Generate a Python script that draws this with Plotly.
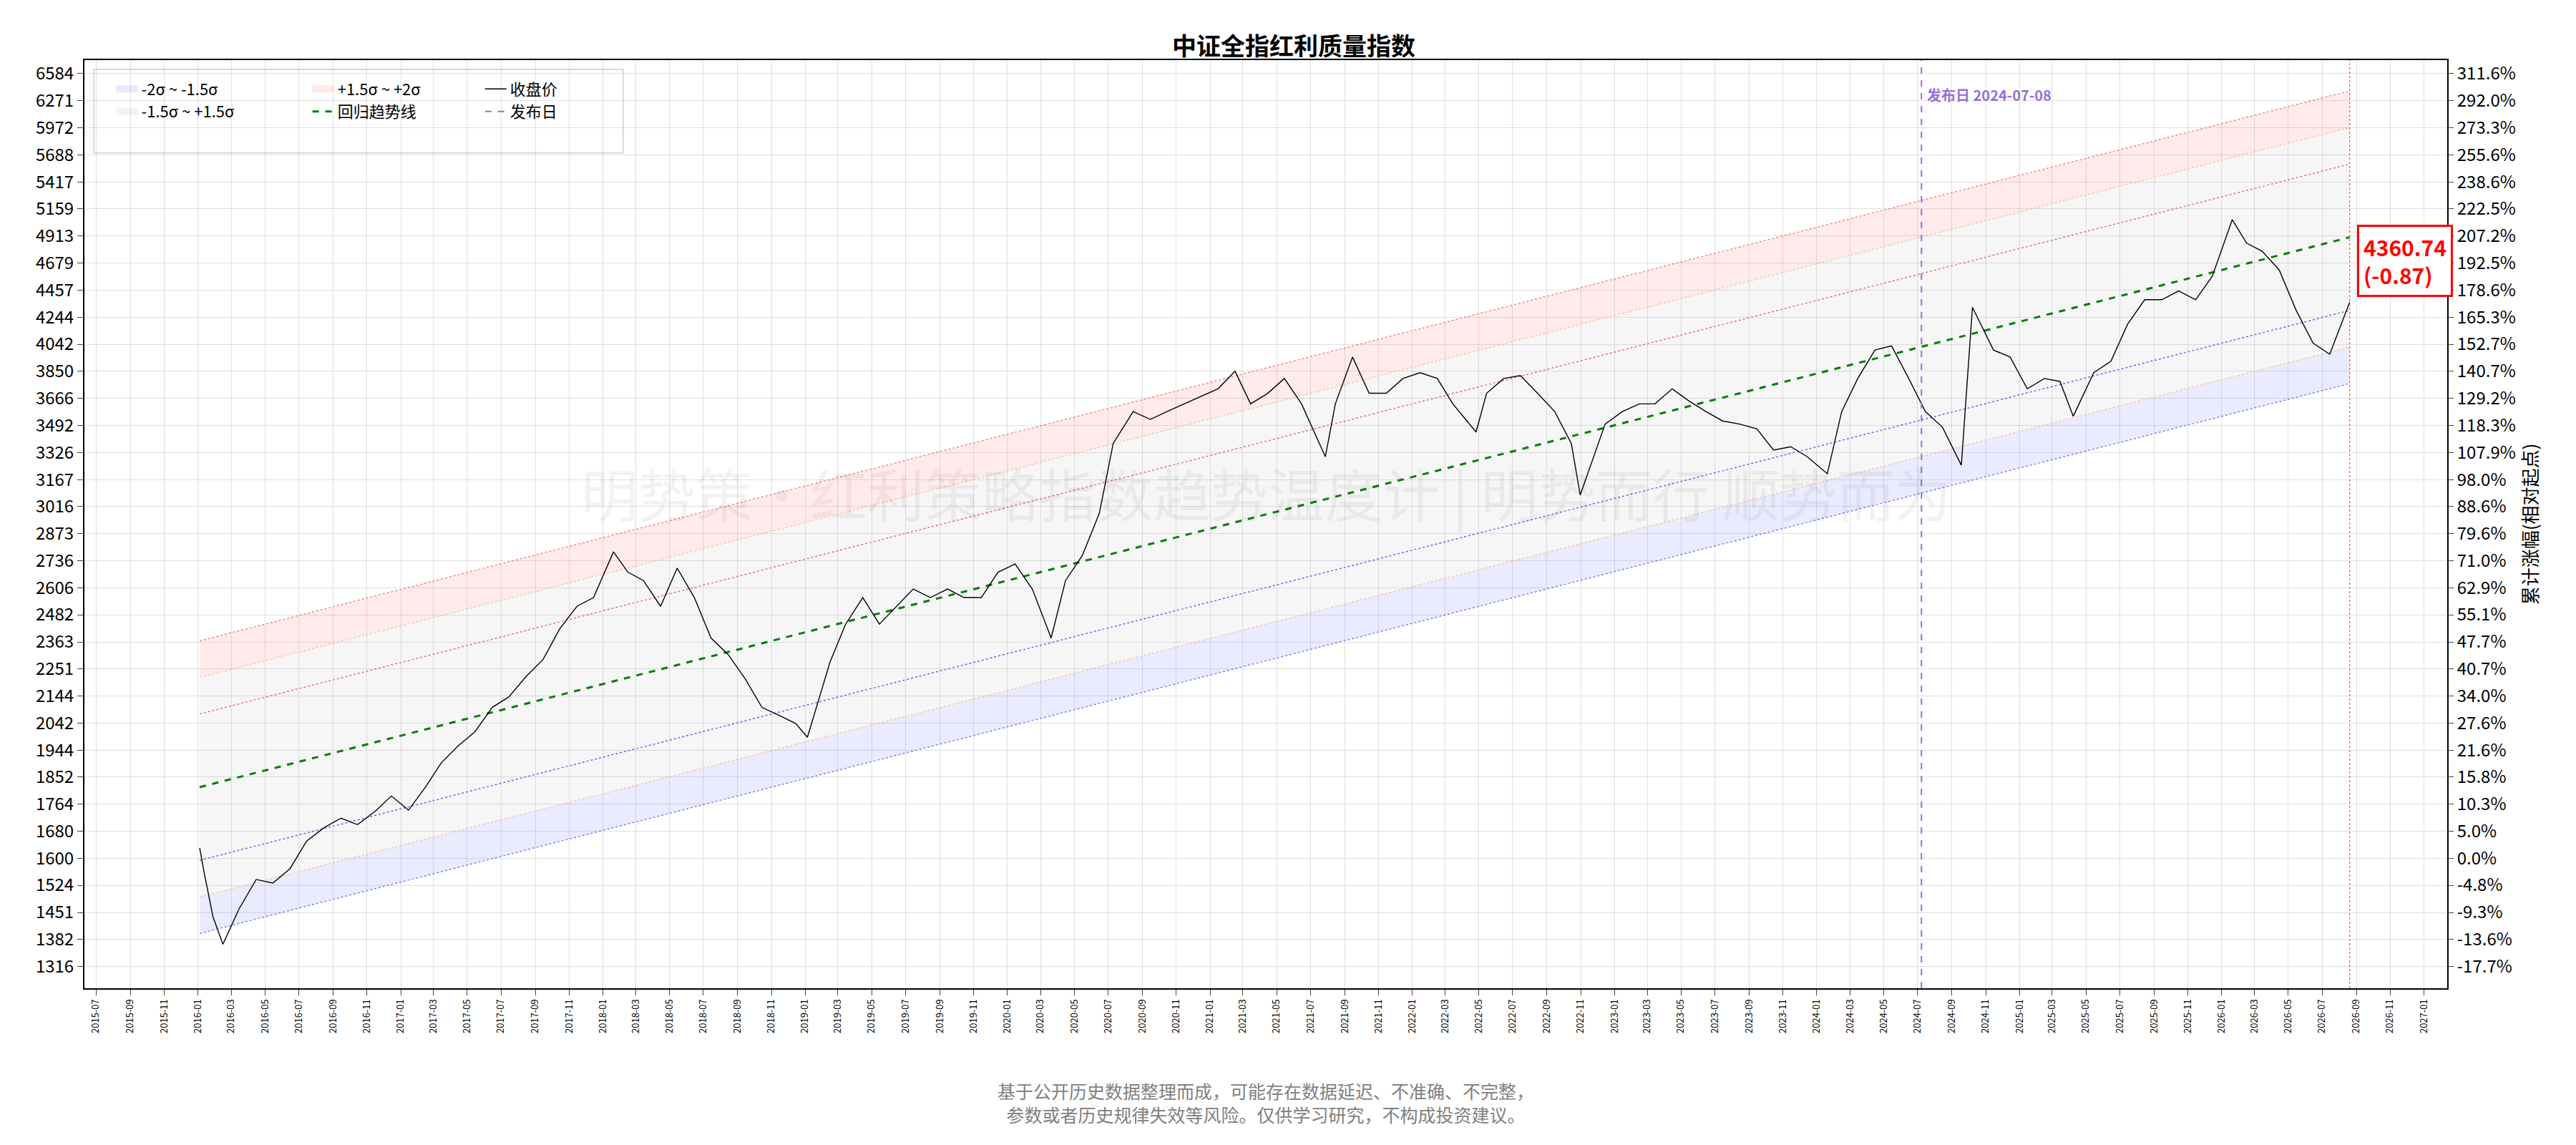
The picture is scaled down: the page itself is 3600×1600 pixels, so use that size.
import numpy as np
import pandas as pd
import plotly.graph_objects as go

# 收盘价（按图读取，月度取样）
dates = ["2016-01-04", "2016-01-12", "2016-01-28", "2016-02-15", "2016-03-15", "2016-04-15", "2016-05-15",
         "2016-06-15", "2016-07-15", "2016-08-15", "2016-09-15", "2016-10-15", "2016-11-15",
         "2016-12-15", "2017-01-15", "2017-02-15", "2017-03-15", "2017-04-15", "2017-05-15",
         "2017-06-15", "2017-07-15", "2017-08-15", "2017-09-15", "2017-10-15", "2017-11-15",
         "2017-12-15", "2018-01-20", "2018-02-15", "2018-03-15", "2018-04-15", "2018-05-15",
         "2018-06-15", "2018-07-15", "2018-08-15", "2018-09-15", "2018-10-15", "2018-11-15",
         "2018-12-15", "2019-01-05", "2019-02-15", "2019-03-15", "2019-04-15", "2019-05-15",
         "2019-06-15", "2019-07-15", "2019-08-15", "2019-09-15", "2019-10-15", "2019-11-15",
         "2019-12-15", "2020-01-15", "2020-02-15", "2020-03-20", "2020-04-15", "2020-05-15",
         "2020-06-15", "2020-07-10", "2020-08-15", "2020-09-15", "2020-10-15", "2020-11-15",
         "2020-12-15", "2021-01-15", "2021-02-15", "2021-03-15", "2021-04-15", "2021-05-15",
         "2021-06-15", "2021-07-28", "2021-08-15", "2021-09-15", "2021-10-15", "2021-11-15",
         "2021-12-15", "2022-01-15", "2022-02-15", "2022-03-15", "2022-04-26", "2022-05-15",
         "2022-06-15", "2022-07-15", "2022-08-15", "2022-09-15", "2022-10-15", "2022-10-31",
         "2022-12-15", "2023-01-15", "2023-02-15", "2023-03-15", "2023-04-15", "2023-05-15",
         "2023-06-15", "2023-07-15", "2023-08-15", "2023-09-15", "2023-10-15", "2023-11-15",
         "2023-12-15", "2024-01-20", "2024-02-15", "2024-03-15", "2024-04-15", "2024-05-15",
         "2024-06-15", "2024-07-15", "2024-08-15", "2024-09-18", "2024-10-08", "2024-11-15",
         "2024-12-15", "2025-01-15", "2025-02-15", "2025-03-15", "2025-04-08", "2025-05-15",
         "2025-06-15", "2025-07-15", "2025-08-15", "2025-09-15", "2025-10-15", "2025-11-15",
         "2025-12-15", "2026-01-20", "2026-02-15", "2026-03-15", "2026-04-15", "2026-05-15",
         "2026-06-15", "2026-07-15", "2026-08-20"]
close = [1630, 1560, 1440, 1370, 1460, 1540, 1530,
         1570, 1650, 1690, 1720, 1700, 1740,
         1790, 1745, 1820, 1900, 1960, 2010,
         2100, 2140, 2220, 2290, 2420, 2520,
         2560, 2780, 2680, 2640, 2520, 2700,
         2560, 2380, 2310, 2210, 2100, 2070,
         2040, 1990, 2280, 2440, 2560, 2440,
         2520, 2600, 2560, 2600, 2560, 2560,
         2680, 2720, 2600, 2380, 2640, 2760,
         2980, 3380, 3580, 3530, 3580, 3630,
         3680, 3730, 3850, 3630, 3700, 3800,
         3630, 3300, 3630, 3950, 3700, 3700,
         3800, 3840, 3800, 3630, 3450, 3700,
         3800, 3820, 3700, 3580, 3380, 3080,
         3500, 3580, 3630, 3630, 3730, 3650,
         3580, 3520, 3500, 3470, 3340, 3360,
         3300, 3200, 3580, 3800, 4000, 4030,
         3800, 3580, 3480, 3250, 4320, 4000,
         3950, 3730, 3800, 3780, 3550, 3840,
         3920, 4190, 4380, 4380, 4450, 4380,
         4570, 5060, 4850, 4780, 4620, 4300,
         4050, 3970, 4360.74]

release_date = "2024-07-08"
last_change = -0.87
left_ticks = [1316, 1382, 1451, 1524, 1600, 1680, 1764, 1852, 1944, 2042, 2144, 2251, 2363, 2482,
              2606, 2736, 2873, 3016, 3167, 3326, 3492, 3666, 3850, 4042, 4244, 4457, 4679, 4913,
              5159, 5417, 5688, 5972, 6271, 6584]
right_ticks = ["-17.7%", "-13.6%", "-9.3%", "-4.8%", "0.0%", "5.0%", "10.3%", "15.8%", "21.6%",
               "27.6%", "34.0%", "40.7%", "47.7%", "55.1%", "62.9%", "71.0%", "79.6%", "88.6%",
               "98.0%", "107.9%", "118.3%", "129.2%", "140.7%", "152.7%", "165.3%", "178.6%",
               "192.5%", "207.2%", "222.5%", "238.6%", "255.6%", "273.3%", "292.0%", "311.6%"]
month_ticks = pd.date_range("2015-07-01", "2027-01-01", freq="2MS")

# 对数线性回归
d = pd.to_datetime(dates)
t = (d - d[0]).days.values.astype(float)
ly = np.log(np.array(close))
slope, icpt = np.polyfit(t, ly, 1)
sigma = np.std(ly - (slope * t + icpt))
tt = np.array([0.0, t[-1]])
xx = [d[0], d[-1]]
def band(k):
    return np.exp(slope * tt + icpt + k * sigma)

FONT = "Noto Sans CJK SC"
BLUE_F = "rgba(90,90,255,0.12)"
GRAY_F = "rgba(150,150,150,0.09)"
PINK_F = "rgba(255,90,90,0.12)"
fig = go.Figure()

# 填充带
fig.add_trace(go.Scatter(x=xx, y=band(-2), mode="lines", line=dict(color="rgba(80,80,255,0.7)", width=1.5, dash="dot"),
                         showlegend=False, hoverinfo="skip"))
fig.add_trace(go.Scatter(x=xx, y=band(-1.5), mode="lines", line=dict(color="rgba(240,170,110,0.6)", width=1.5, dash="dot"),
                         fill="tonexty", fillcolor=BLUE_F, showlegend=False, hoverinfo="skip"))
fig.add_trace(go.Scatter(x=xx, y=band(1.5), mode="lines", line=dict(color="rgba(240,170,110,0.6)", width=1.5, dash="dot"),
                         fill="tonexty", fillcolor=GRAY_F, showlegend=False, hoverinfo="skip"))
fig.add_trace(go.Scatter(x=xx, y=band(2), mode="lines", line=dict(color="rgba(240,90,90,0.7)", width=1.5, dash="dot"),
                         fill="tonexty", fillcolor=PINK_F, showlegend=False, hoverinfo="skip"))
fig.add_trace(go.Scatter(x=xx, y=band(1), mode="lines", line=dict(color="rgba(230,80,80,0.8)", width=1.5, dash="dot"),
                         showlegend=False, hoverinfo="skip"))
fig.add_trace(go.Scatter(x=xx, y=band(-1), mode="lines", line=dict(color="rgba(70,70,230,0.8)", width=1.5, dash="dot"),
                         showlegend=False, hoverinfo="skip"))
fig.add_trace(go.Scatter(x=xx, y=band(0), mode="lines", line=dict(color="green", width=3, dash="dash"),
                         name="回归趋势线", legend="legend2", legendrank=2))
fig.add_trace(go.Scatter(x=d, y=close, mode="lines", line=dict(color="black", width=1.4),
                         name="收盘价", legend="legend3", legendrank=1))
fig.add_trace(go.Scatter(x=[None], y=[None], mode="lines", line=dict(color="mediumpurple", width=2, dash="dash"),
                         name="发布日", legend="legend3", legendrank=2))
# 图例中的色块
for nm, lc, lg, rk in [("-2σ ~ -1.5σ", "rgba(90,90,255,0.14)", "legend", 1),
                       ("-1.5σ ~ +1.5σ", "rgba(150,150,150,0.12)", "legend", 2),
                       ("+1.5σ ~ +2σ", "rgba(255,90,90,0.14)", "legend2", 1)]:
    fig.add_trace(go.Scatter(x=[None], y=[None], mode="lines", line=dict(color=lc, width=18),
                             name=nm, legend=lg, legendrank=rk))
# 右轴占位
fig.add_trace(go.Scatter(x=d, y=close, yaxis="y2", mode="lines", line=dict(width=0), opacity=0,
                         showlegend=False, hoverinfo="skip"))

yr = [np.log10(1316 / 1.05 ** 0.8), np.log10(6584 * 1.05 ** 0.5)]
leg = dict(y=0.985, xanchor="left", yanchor="top", bgcolor="rgba(0,0,0,0)", font=dict(size=22),
           traceorder="normal")
fig.update_layout(
    width=3600, height=1600, plot_bgcolor="white", paper_bgcolor="white",
    font=dict(family=FONT, size=24, color="black"),
    margin=dict(l=110, r=188, t=76, b=227),
    title=dict(text="<b>中证全指红利质量指数</b>", x=0.5, y=0.972, font=dict(size=34)),
    xaxis=dict(range=["2015-06-10", "2027-02-12"], tickvals=month_ticks,
               ticktext=[m.strftime("%Y-%m") for m in month_ticks], tickangle=-90,
               tickfont=dict(size=13), showgrid=True, gridcolor="rgba(0,0,0,0.12)",
               showline=True, linecolor="black", linewidth=2, mirror=True, ticks="outside", ticklen=8),
    yaxis=dict(type="log", range=yr, tickvals=left_ticks, ticktext=[str(v) for v in left_ticks],
               showgrid=True, gridcolor="rgba(0,0,0,0.12)", showline=True, linecolor="black",
               linewidth=2, mirror=True, ticks="outside", ticklen=8),
    yaxis2=dict(type="log", range=yr, overlaying="y", side="right", tickvals=left_ticks,
                ticktext=right_ticks, showgrid=False, ticks="outside", ticklen=8,
                title=dict(text="累计涨幅(相对起点)", font=dict(size=26), standoff=10)),
    legend=dict(x=0.012, **leg),
    legend2=dict(x=0.095, **leg),
    legend3=dict(x=0.168, **leg),
    shapes=[
        dict(type="rect", xref="paper", yref="paper", x0=0.004, x1=0.228, y0=0.9, y1=0.99,
             line=dict(color="rgba(0,0,0,0.15)", width=2), fillcolor="rgba(255,255,255,0.85)", layer="below"),
        dict(type="line", xref="x", yref="paper", x0=release_date, x1=release_date, y0=0, y1=1,
             line=dict(color="mediumpurple", width=2, dash="dash")),
        dict(type="line", xref="x", yref="paper", x0=dates[-1], x1=dates[-1], y0=0, y1=1,
             line=dict(color="rgba(230,80,80,0.8)", width=1.5, dash="dot")),
    ],
    annotations=[
        dict(text="<b>发布日 2024-07-08</b>", xref="x", yref="paper", x=release_date, y=0.975,
             xanchor="left", xshift=6, showarrow=False, font=dict(size=20, color="mediumpurple")),
        dict(text=f"<b>{close[-1]:.2f}<br>({last_change:.2f})</b>", xref="paper", yref="y",
             x=1.0, y=np.log10(4700), xanchor="right", xshift=8, showarrow=False, align="left",
             font=dict(size=30, color="red"), bordercolor="red", borderwidth=3, borderpad=6,
             bgcolor="white"),
        dict(text="明势策·红利策略指数趋势温度计 | 明势而行 顺势而为", xref="paper", yref="paper",
             x=0.5, y=0.535, showarrow=False, font=dict(size=80, color="rgba(0,0,0,0.05)")),
        dict(text="基于公开历史数据整理而成，可能存在数据延迟、不准确、不完整，<br>参数或者历史规律失效等风险。仅供学习研究，不构成投资建议。",
             xref="paper", yref="paper", x=0.5, y=-0.095, yanchor="top", showarrow=False,
             font=dict(size=25, color="gray")),
    ],
)
fig.write_html("out.html")
